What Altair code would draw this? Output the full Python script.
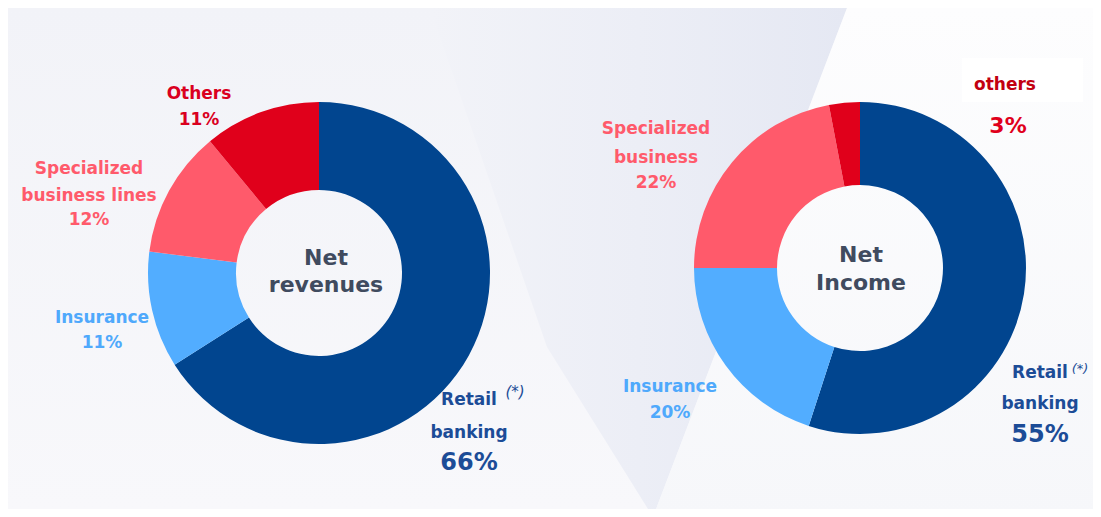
import altair as alt
import pandas as pd

# ---------------- data ----------------
segments = ["Retail banking", "Insurance", "Specialized business", "Others"]
revenue_share = [66, 11, 12, 11]
income_share = [55, 20, 22, 3]
revenue_names = [["Retail", "banking"], ["Insurance"], ["Specialized", "business lines"], ["Others"]]
income_names = [["Retail", "banking"], ["Insurance"], ["Specialized", "business"], ["others"]]
revenue_title = ["Net", "revenues"]
income_title = ["Net", "Income"]
footnote_mark = "(*)"

# ---------------- styles / layout ----------------
seg_colors = ["#01458F", "#52ADFF", "#FF5A6B", "#E0001B"]
FONT = "DejaVu Sans"
W, H = 1085, 501
M = 8  # page margin


def px(v):
    return v - M


DONUT = {
    "rev": dict(cx=319, cy=273, R=171, r=83),
    "inc": dict(cx=860, cy=268, R=166, r=83),
}

# per segment: name x, name baselines, pct x, pct baseline, pct size, name colour, pct colour
LAB = {
    "rev": [
        dict(x=469, lines=[405, 438], pxx=469, py=470, ps=24, nc="#1C4C97", pc="#1C4C97"),
        dict(x=102, lines=[323], pxx=102, py=348, ps=17, nc="#4FA9FC", pc="#4FA9FC"),
        dict(x=89, lines=[174, 201], pxx=89, py=225, ps=17, nc="#FF5A6B", pc="#FF5A6B"),
        dict(x=199, lines=[99], pxx=199, py=125, ps=17, nc="#DA001E", pc="#DA001E"),
    ],
    "inc": [
        dict(x=1040, lines=[378, 409], pxx=1040, py=442, ps=24, nc="#1C4C97", pc="#1C4C97"),
        dict(x=670, lines=[392], pxx=670, py=418, ps=17, nc="#4FA9FC", pc="#4FA9FC"),
        dict(x=656, lines=[134, 163], pxx=656, py=188, ps=17, nc="#FF5A6B", pc="#FF5A6B"),
        dict(x=1005, lines=[90], pxx=1008, py=133, ps=22, nc="#C20010", pc="#E0001B"),
    ],
}
TITLE = {
    "rev": dict(x=326, lines=[265, 292]),
    "inc": dict(x=861, lines=[262, 290]),
}
FOOT = {"rev": dict(x=515, y=397, s=15), "inc": dict(x=1080, y=373, s=13)}
TITLE_COLOR = "#404B5F"

# ---------------- background decoration ----------------
full_bg = alt.Chart(pd.DataFrame({"a": [0]})).mark_rect(
    color=alt.Gradient(
        gradient="linear",
        stops=[alt.GradientStop(color="#F2F3F8", offset=0),
               alt.GradientStop(color="#F8F8FB", offset=1)],
        x1=0, x2=0, y1=0, y2=1,
    )
).encode(x=alt.value(0), x2=alt.value(W), y=alt.value(0), y2=alt.value(H))

band = pd.DataFrame({
    "x": [px(430), px(547), px(653), px(847)],
    "top": [0, 0, 0, 0],
    "bottom": [0, px(347), px(517), 0],
})
band_layer = alt.Chart(band).mark_area(
    orient="vertical",
    color=alt.Gradient(
        gradient="linear",
        stops=[alt.GradientStop(color="#F2F3F8", offset=0),
               alt.GradientStop(color="#ECEEF6", offset=0.5),
               alt.GradientStop(color="#E5E8F3", offset=1)],
        x1=0, x2=1, y1=0, y2=0,
    ),
).encode(
    x=alt.X("x:Q", scale=None),
    y=alt.Y("top:Q", scale=None, stack=None),
    y2="bottom:Q",
)

right_bg = pd.DataFrame({
    "x": [px(653), px(847), W],
    "top": [px(517), 0, 0],
    "bottom": [H, H, H],
})
right_layer = alt.Chart(right_bg).mark_area(
    orient="vertical",
    color=alt.Gradient(
        gradient="linear",
        stops=[alt.GradientStop(color="#FDFDFE", offset=0),
               alt.GradientStop(color="#F6F7FA", offset=1)],
        x1=0, x2=0, y1=0, y2=1,
    ),
).encode(
    x=alt.X("x:Q", scale=None),
    y=alt.Y("top:Q", scale=None, stack=None),
    y2="bottom:Q",
)

box_layer = alt.Chart(pd.DataFrame({"a": [0]})).mark_rect(color="#FFFFFF").encode(
    x=alt.value(px(962)), x2=alt.value(px(1083)),
    y=alt.value(px(58)), y2=alt.value(px(102)),
)


# ---------------- donuts ----------------
def donut(shares, d):
    df = pd.DataFrame({"segment": segments, "share": shares, "order": list(range(len(segments)))})
    return alt.Chart(df).mark_arc(outerRadius=d["R"], innerRadius=d["r"]).encode(
        theta=alt.Theta("share:Q", stack=True),
        color=alt.Color("segment:N", scale=alt.Scale(domain=segments, range=seg_colors), legend=None),
        order=alt.Order("order:Q"),
        x=alt.value(px(d["cx"])),
        y=alt.value(px(d["cy"])),
    )


# ---------------- labels ----------------
rows = []
for key, shares, names in (("rev", revenue_share, revenue_names), ("inc", income_share, income_names)):
    for i, (share, lines) in enumerate(zip(shares, names)):
        lay = LAB[key][i]
        for line, yb in zip(lines, lay["lines"]):
            rows.append(dict(text=line, x=px(lay["x"]), y=px(yb), size=17, color=lay["nc"]))
        rows.append(dict(text=f"{share}%", x=px(lay["pxx"]), y=px(lay["py"]), size=lay["ps"], color=lay["pc"]))
    for line, yb in zip(revenue_title if key == "rev" else income_title, TITLE[key]["lines"]):
        rows.append(dict(text=line, x=px(TITLE[key]["x"]), y=px(yb), size=22, color=TITLE_COLOR))
labels = pd.DataFrame(rows)

label_layer = alt.Chart(labels).mark_text(
    font=FONT, fontWeight="bold", align="center", baseline="alphabetic"
).encode(
    x=alt.X("x:Q", scale=None),
    y=alt.Y("y:Q", scale=None),
    text="text:N",
    color=alt.Color("color:N", scale=None),
    size=alt.Size("size:Q", scale=None),
)

foot = pd.DataFrame([
    dict(text=footnote_mark, x=px(FOOT[k]["x"]), y=px(FOOT[k]["y"]), size=FOOT[k]["s"]) for k in ("rev", "inc")
])
foot_layer = alt.Chart(foot).mark_text(
    font=FONT, fontStyle="italic", align="center", baseline="alphabetic", color="#1C4C97"
).encode(
    x=alt.X("x:Q", scale=None),
    y=alt.Y("y:Q", scale=None),
    text="text:N",
    size=alt.Size("size:Q", scale=None),
)

chart = alt.layer(
    full_bg, band_layer, right_layer, box_layer,
    donut(revenue_share, DONUT["rev"]),
    donut(income_share, DONUT["inc"]),
    label_layer, foot_layer,
).resolve_scale(theta="independent").properties(
    width=W, height=H, padding=0,
    autosize=alt.AutoSizeParams(type="none"),
    background="#F4F5FA",
).configure_view(stroke=None)

chart.save("out.html", embed_options={"renderer": "svg", "actions": False})
